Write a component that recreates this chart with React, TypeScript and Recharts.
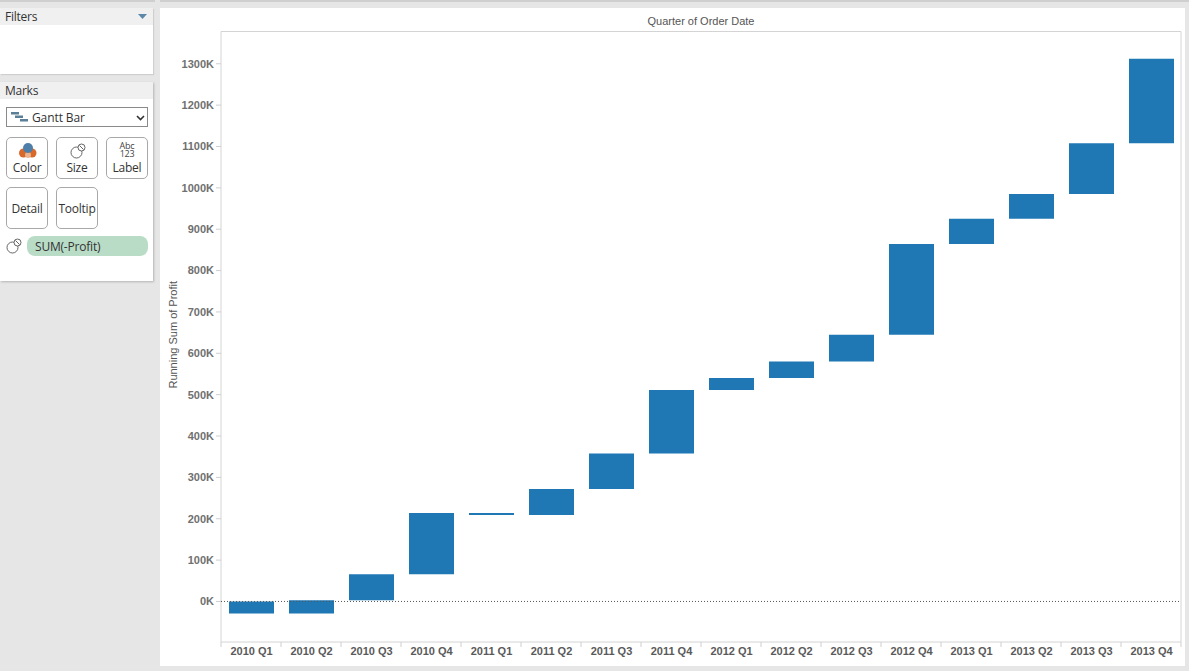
import React from "react";
import { ComposedChart, Bar, XAxis, YAxis, ReferenceLine, ReferenceArea } from "recharts";

const quarters = ["2010 Q1","2010 Q2","2010 Q3","2010 Q4","2011 Q1","2011 Q2","2011 Q3","2011 Q4","2012 Q1","2012 Q2","2012 Q3","2012 Q4","2013 Q1","2013 Q2","2013 Q3","2013 Q4"];
const runningStart = [0,-29,3,66,214,209,272,358,511,540,580,645,864,925,985,1108];
const runningEnd = [-29,3,66,214,209,272,358,511,540,580,645,864,925,985,1108,1312];
const yTicks = [0,100,200,300,400,500,600,700,800,900,1000,1100,1200,1300];
const yDomain = [-98, 1378];

const data = quarters.map((q, i) => ({ q, range: [Math.min(runningStart[i], runningEnd[i]), Math.max(runningStart[i], runningEnd[i])] }));

const FONT = '"Liberation Sans", Arial, sans-serif';
const UI = '"Open Sans", "Noto Sans", sans-serif';
const BAND = 60;

const XTick = (props: any) => {
  const { x, y, payload, index } = props;
  return (
    <g>
      <line x1={x - BAND / 2} x2={x - BAND / 2} y1={y - 14} y2={y - 9} stroke="#cfcfcf" />
      {index === quarters.length - 1 && <line x1={x + BAND / 2} x2={x + BAND / 2} y1={y - 14} y2={y - 9} stroke="#cfcfcf" />}
      <text x={x + 0.5} y={y - 1} textAnchor="middle" fontFamily={FONT} fontSize={11} fontWeight={700} fill="#5a5a5a">{payload.value}</text>
    </g>
  );
};

const box = (l: number, t: number, w: number, h: number): React.CSSProperties => ({ position: "absolute", left: l, top: t, width: w, height: h, boxSizing: "border-box" });

const Btn = ({ l, t, label, children }: any) => (
  <div style={{ ...box(l, t, 42, 42), border: "1px solid #a8a8a8", borderRadius: 5, background: "#fff", textAlign: "center", fontFamily: UI, fontSize: 12, letterSpacing: -0.25, color: "#333" }}>
    <div style={{ position: "absolute", left: 0, right: 0, lineHeight: "13px", bottom: children ? 4 : 13 }}>{label}</div>
    {children}
  </div>
);

const SizeIcon = ({ l, t }: { l: number; t: number }) => (
  <svg style={{ position: "absolute", left: l, top: t }} width="16" height="16" viewBox="0 0 16 16">
    <circle cx="6.5" cy="9.5" r="5.5" fill="none" stroke="#666" />
    <circle cx="11.5" cy="4.5" r="3.5" fill="#fff" stroke="#666" />
    <line x1="9.5" y1="2.5" x2="13.5" y2="6.5" stroke="#666" />
  </svg>
);

export default function App() {
  return (
    <div style={{ position: "fixed", left: 0, top: 0, width: 1189, height: 671, background: "#e6e6e6", overflow: "hidden" }}>
      <div style={{ ...box(0, 0, 155, 2), background: "#cfcfcf" }} />
      <div style={{ ...box(160, 0, 1029, 2), background: "#cfcfcf" }} />

      <div style={{ ...box(0, 8, 153, 66), background: "#fff", boxShadow: "1px 1px 1px #cfcfcf" }}>
        <div style={{ height: 17, background: "#f0f0f0", fontFamily: UI, fontSize: 12, letterSpacing: -0.25, lineHeight: "17px", paddingLeft: 5, color: "#333" }}>Filters</div>
        <svg style={{ position: "absolute", left: 138, top: 6 }} width="9" height="6"><polygon points="0,0 9,0 4.5,5" fill="#5b87a8" /></svg>
      </div>

      <div style={{ ...box(0, 82, 153, 199), background: "#fff", boxShadow: "1px 1px 2px #b5b5b5" }}>
        <div style={{ height: 17, background: "#f0f0f0", fontFamily: UI, fontSize: 12, letterSpacing: -0.25, lineHeight: "17px", paddingLeft: 5, color: "#333" }}>Marks</div>
      </div>
      <div style={{ ...box(6, 107, 142, 20), border: "1px solid #8a8a8a", background: "#fff", fontFamily: UI, fontSize: 12, letterSpacing: -0.1, lineHeight: "19px", paddingLeft: 25, color: "#333" }}>
        Gantt Bar
        <svg style={{ position: "absolute", left: 4, top: 3 }} width="18" height="12">
          <rect x="0" y="1" width="8" height="2.5" fill="#5a7f96" /><rect x="4" y="4.5" width="8" height="2.5" fill="#5a7f96" /><rect x="9" y="8" width="8" height="2.5" fill="#5a7f96" />
        </svg>
        <svg style={{ position: "absolute", left: 129, top: 7 }} width="9" height="6"><polyline points="1,1 4.5,4.5 8,1" fill="none" stroke="#333" strokeWidth="1.6" /></svg>
      </div>

      <Btn l={6} t={137} label="Color">
        <svg style={{ position: "absolute", left: 12, top: 4 }} width="18" height="18">
          <circle cx="4.5" cy="11" r="4.5" fill="#d9692b" /><circle cx="13" cy="11" r="4.5" fill="#d9692b" /><circle cx="9" cy="13" r="3" fill="#e9b48e" /><circle cx="9" cy="6" r="5" fill="#4e7fa8" />
        </svg>
      </Btn>
      <Btn l={56} t={137} label="Size"><SizeIcon l={13} t={5} /></Btn>
      <Btn l={106} t={137} label="Label">
        <div style={{ position: "absolute", left: 0, right: 0, top: 4, fontSize: 9, lineHeight: "8px", color: "#444" }}>Abc<br />123</div>
      </Btn>
      <Btn l={6} t={187} label="Detail" />
      <Btn l={56} t={187} label="Tooltip" />
      <SizeIcon l={6} t={238} />
      <div style={{ ...box(27, 236, 121, 20), background: "#b9dcc7", borderRadius: 8, fontFamily: UI, fontSize: 12, letterSpacing: -0.2, lineHeight: "21px", paddingLeft: 8, color: "#333" }}>SUM(-Profit)</div>

      <div style={{ ...box(160, 8, 1025, 658), background: "#fff" }} />

      <div style={{ position: "absolute", left: 0, top: 0 }}>
        <ComposedChart width={1189} height={671} data={data} margin={{ top: 8, right: 8, bottom: 0, left: 160 }} barCategoryGap={15}>
          <XAxis xAxisId="top" orientation="top" dataKey="q" height={23.5} tick={false} axisLine={false} tickLine={false}
            label={{ value: "Quarter of Order Date", position: "insideTop", offset: 0, dy: 9, dx: 0, style: { fontFamily: FONT, fontSize: 11, fill: "#555" } }} />
          <XAxis dataKey="q" height={29} interval={0} axisLine={false} tickLine={false} tick={<XTick />} tickMargin={8} />
          <YAxis type="number" domain={yDomain} ticks={yTicks} width={61} allowDataOverflow interval={0}
            axisLine={false} tickSize={5} tickLine={{ stroke: "#cfcfcf" }} tickMargin={2}
            tickFormatter={(v: number) => `${v}K`}
            tick={{ fontFamily: FONT, fontSize: 11, fontWeight: 700, fill: "#707070" }}
            label={{ value: "Running Sum of Profit", angle: -90, position: "insideLeft", offset: 13, dy: -2, style: { textAnchor: "middle", fontFamily: FONT, fontSize: 11, fill: "#555" } }} />
          <ReferenceArea y1={yDomain[0]} y2={yDomain[1]} fill="none" stroke="#d4d4d4" strokeWidth={1} ifOverflow="visible" />
          <ReferenceLine y={0} stroke="#555" strokeDasharray="1 2" />
          <Bar dataKey="range" fill="#1f77b4" barSize={45} isAnimationActive={false} />
        </ComposedChart>
      </div>
    </div>
  );
}
